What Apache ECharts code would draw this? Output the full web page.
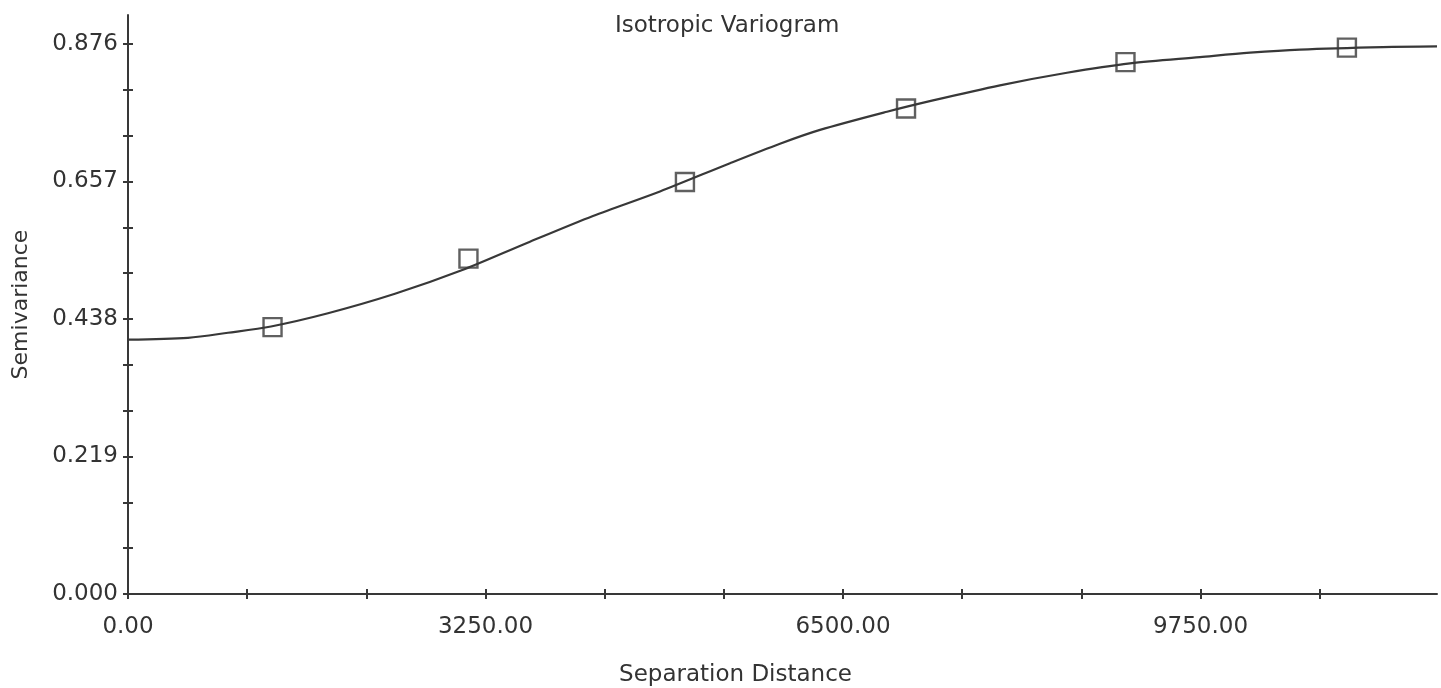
<!DOCTYPE html>
<html>
<head>
<meta charset="utf-8">
<script src="https://cdn.jsdelivr.net/npm/echarts@6/dist/echarts.min.js"></script>
<style>
  html, body { margin: 0; padding: 0; background: #ffffff; }
  #chart { width: 1441px; height: 688px; }
</style>
</head>
<body>
<div id="chart"></div>
<script>
// ---- data ----
const chartTitle = 'Isotropic Variogram';
const xAxisName = 'Separation Distance';
const yAxisName = 'Semivariance';

// fitted model curve (separation distance, semivariance)
const curveX = [0, 545, 909, 1300, 1818, 2427, 3027, 3627, 4227, 4836, 5473, 5927, 6291, 6900, 7318, 7927, 8536, 9109, 9745, 10200, 10654, 11409, 11900];
const curveY = [0.405, 0.408, 0.416, 0.426, 0.447, 0.478, 0.515, 0.559, 0.602, 0.641, 0.686, 0.717, 0.739, 0.768, 0.786, 0.810, 0.830, 0.845, 0.855, 0.862, 0.867, 0.871, 0.872];

// experimental variogram points
const sampleX = [1314, 3095, 5063, 7073, 9068, 11081];
const sampleY = [0.425, 0.534, 0.656, 0.773, 0.847, 0.870];

// axis ticks and labels
const xLabelValues = [0, 3250, 6500, 9750];
const xTickValues = [0, 1083.33, 2166.67, 3250, 4333.33, 5416.67, 6500, 7583.33, 8666.67, 9750, 10833.33];
const yLabelValues = [0, 0.219, 0.438, 0.657, 0.876];
const yTickValues = [0, 0.073, 0.146, 0.219, 0.292, 0.365, 0.438, 0.511, 0.584, 0.657, 0.730, 0.803, 0.876];
const xMax = 11900;
const yMax = 0.922;

const ink = '#383838';
const textInk = '#333333';
const font = 'DejaVu Sans';
const fs = 23;

const curveData = curveX.map((x, i) => [x, curveY[i]]);
const sampleData = sampleX.map((x, i) => [x, sampleY[i]]);

const chart = echarts.init(document.getElementById('chart'), null, { renderer: 'canvas' });

const baseX = {
  type: 'value', min: 0, max: xMax, gridIndex: 0,
  splitLine: { show: false }
};
const baseY = {
  type: 'value', min: 0, max: yMax, gridIndex: 0,
  splitLine: { show: false }
};

chart.setOption({
  backgroundColor: '#ffffff',
  animation: false,
  title: {
    text: chartTitle,
    left: 610,
    top: 10,
    textStyle: { fontFamily: font, fontSize: fs, fontWeight: 'normal', color: textInk }
  },
  grid: { left: 128, right: 4, top: 15, bottom: 94, containLabel: false, outerBoundsMode: 'none' },
  xAxis: [
    Object.assign({}, baseX, {
      position: 'bottom',
      name: xAxisName,
      nameLocation: 'middle',
      nameGap: 70,
      nameTextStyle: { fontFamily: font, fontSize: fs, color: textInk, padding: [0, 94, 0, 0] },
      axisLine: { show: true, lineStyle: { color: ink, width: 2 } },
      axisTick: { show: true, inside: false, length: 5, lineStyle: { color: ink, width: 2 }, customValues: xTickValues },
      axisLabel: {
        show: true, margin: 22, fontFamily: font, fontSize: fs, color: textInk,
        customValues: xLabelValues,
        formatter: v => Number(v).toFixed(2)
      }
    }),
    Object.assign({}, baseX, {
      position: 'bottom', offset: 0,
      axisLine: { show: false },
      axisTick: { show: true, inside: true, length: 5, lineStyle: { color: ink, width: 2 }, customValues: xTickValues },
      axisLabel: { show: false }
    })
  ],
  yAxis: [
    Object.assign({}, baseY, {
      position: 'left',
      name: yAxisName,
      nameLocation: 'middle',
      nameGap: 96,
      nameTextStyle: { fontFamily: font, fontSize: fs - 1, color: textInk },
      axisLine: { show: true, lineStyle: { color: ink, width: 2 } },
      axisTick: { show: true, inside: false, length: 5, lineStyle: { color: ink, width: 2 }, customValues: yTickValues },
      axisLabel: {
        show: true, margin: 10, fontFamily: font, fontSize: fs, color: textInk,
        customValues: yLabelValues,
        formatter: v => Number(v).toFixed(3)
      }
    }),
    Object.assign({}, baseY, {
      position: 'left', offset: 0,
      axisLine: { show: false },
      axisTick: { show: true, inside: true, length: 5, lineStyle: { color: ink, width: 2 }, customValues: yTickValues },
      axisLabel: { show: false }
    })
  ],
  series: [
    {
      type: 'line',
      data: curveData,
      xAxisIndex: 0, yAxisIndex: 0,
      showSymbol: false,
      smooth: 0.3,
      lineStyle: { color: ink, width: 2.2 },
      z: 2
    },
    {
      type: 'scatter',
      data: sampleData,
      xAxisIndex: 0, yAxisIndex: 0,
      symbol: 'rect',
      symbolSize: 18,
      itemStyle: { color: 'rgba(0,0,0,0)', borderColor: ink, borderWidth: 2.4 },
      z: 3
    }
  ]
});
</script>
</body>
</html>
